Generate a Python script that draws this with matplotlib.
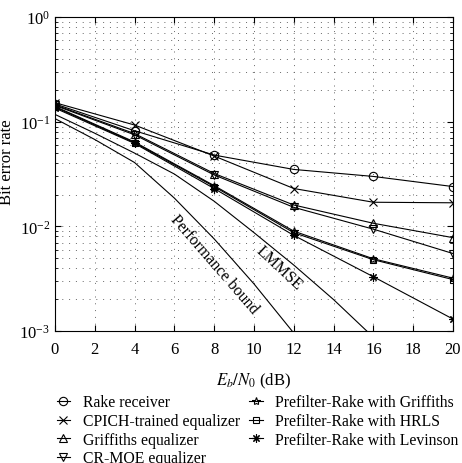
import numpy as np
import matplotlib
matplotlib.use("Agg")
import matplotlib.pyplot as plt
from matplotlib.ticker import LogLocator, NullFormatter

plt.rcParams['font.family'] = ['Liberation Serif', 'DejaVu Serif']
plt.rcParams['mathtext.fontset'] = 'stix'

# simulated points
snr = [0, 4, 8, 12, 16, 20]
rake = [0.148, 0.082, 0.048, 0.035, 0.030, 0.024]
cpich = [0.152, 0.093, 0.047, 0.023, 0.017, 0.0168]
griffiths = [0.145, 0.077, 0.032, 0.016, 0.0107, 0.0078]
crmoe = [0.143, 0.075, 0.031, 0.0152, 0.0094, 0.0055]
pre_griff = [0.140, 0.064, 0.0245, 0.0090, 0.0049, 0.0032]
pre_hrls = [0.138, 0.063, 0.024, 0.0087, 0.0048, 0.0031]
pre_lev = [0.135, 0.062, 0.023, 0.0082, 0.0033, 0.0013]

# analytic curves, log10 of BER
bound_snr = [0, 2, 4, 6, 8, 10, 12]
bound_log = [-0.97, -1.17, -1.39, -1.73, -2.12, -2.55, -3.02]
lmmse_snr = [0, 2, 4, 6, 8, 10, 12, 14, 16]
lmmse_log = [-0.93, -1.11, -1.30, -1.50, -1.76, -2.06, -2.37, -2.70, -3.06]

fig = plt.figure(figsize=(4.62, 4.64), dpi=100)
ax = fig.add_axes([0.119, 0.2845, 0.8615, 0.6765])

kw = dict(color='black', lw=0.8, markerfacecolor='none', markeredgecolor='black',
          markeredgewidth=0.8, markersize=6)
ax.plot(snr, rake, marker='o', label='Rake receiver', **kw)
ax.plot(snr, cpich, marker='x', label='CPICH-trained equalizer', **kw)
ax.plot(snr, griffiths, marker='^', label='Griffiths equalizer', **kw)
ax.plot(snr, crmoe, marker='v', label='CR-MOE equalizer', **kw)
ax.plot(snr, pre_griff, marker='*', label='Prefilter-Rake with Griffiths', **kw)
ax.plot(snr, pre_hrls, marker='s', label='Prefilter-Rake with HRLS', **dict(kw, markersize=5))
ax.plot(snr, pre_lev, marker=(8, 2, 0), label='Prefilter-Rake with Levinson', **kw)

ax.plot(bound_snr, 10 ** np.array(bound_log), color='black', lw=0.8)
ax.plot(lmmse_snr, 10 ** np.array(lmmse_log), color='black', lw=0.8)

ax.set_yscale('log')
ax.set_xlim(0, 20)
ax.set_ylim(1e-3, 1)
ax.set_xticks(range(0, 21, 2))
ax.yaxis.set_major_locator(LogLocator(base=10))
ax.yaxis.set_minor_locator(LogLocator(base=10, subs=np.arange(2, 10)))
ax.yaxis.set_minor_formatter(NullFormatter())
ax.tick_params(which='both', direction='in', top=True, right=True, labelsize=12)
ax.tick_params(which='major', length=4)
ax.tick_params(which='minor', length=2)
ax.tick_params(axis='x', pad=7)
ax.grid(True, which='major', linestyle=(0, (1, 6)), color='#666666', lw=0.7)
ax.grid(True, which='minor', axis='y', linestyle=(0, (1, 6)), color='#666666', lw=0.7)
for sp in ax.spines.values():
    sp.set_linewidth(0.8)

ax.text(8.0, 10 ** -2.36, 'Performance bound', rotation=-49, ha='center', va='center',
        fontsize=11.5)
ax.text(11.25, 10 ** -2.39, 'LMMSE', rotation=-43, ha='center', va='center', fontsize=11.5)

ax.set_xlabel('$E_b/N_0$ (dB)', fontsize=12, labelpad=10)
ax.set_ylabel('Bit error rate', fontsize=12)
ax.yaxis.set_label_coords(-0.1, 0.54)

ax.legend(loc='upper left', bbox_to_anchor=(0.123, 0.148), bbox_transform=fig.transFigure,
          ncol=2, frameon=False, fontsize=11.3, handlelength=0.85, handletextpad=0.8,
          columnspacing=0.6, labelspacing=0.17, borderaxespad=0, borderpad=0)

fig.savefig('out.png', dpi=100)
